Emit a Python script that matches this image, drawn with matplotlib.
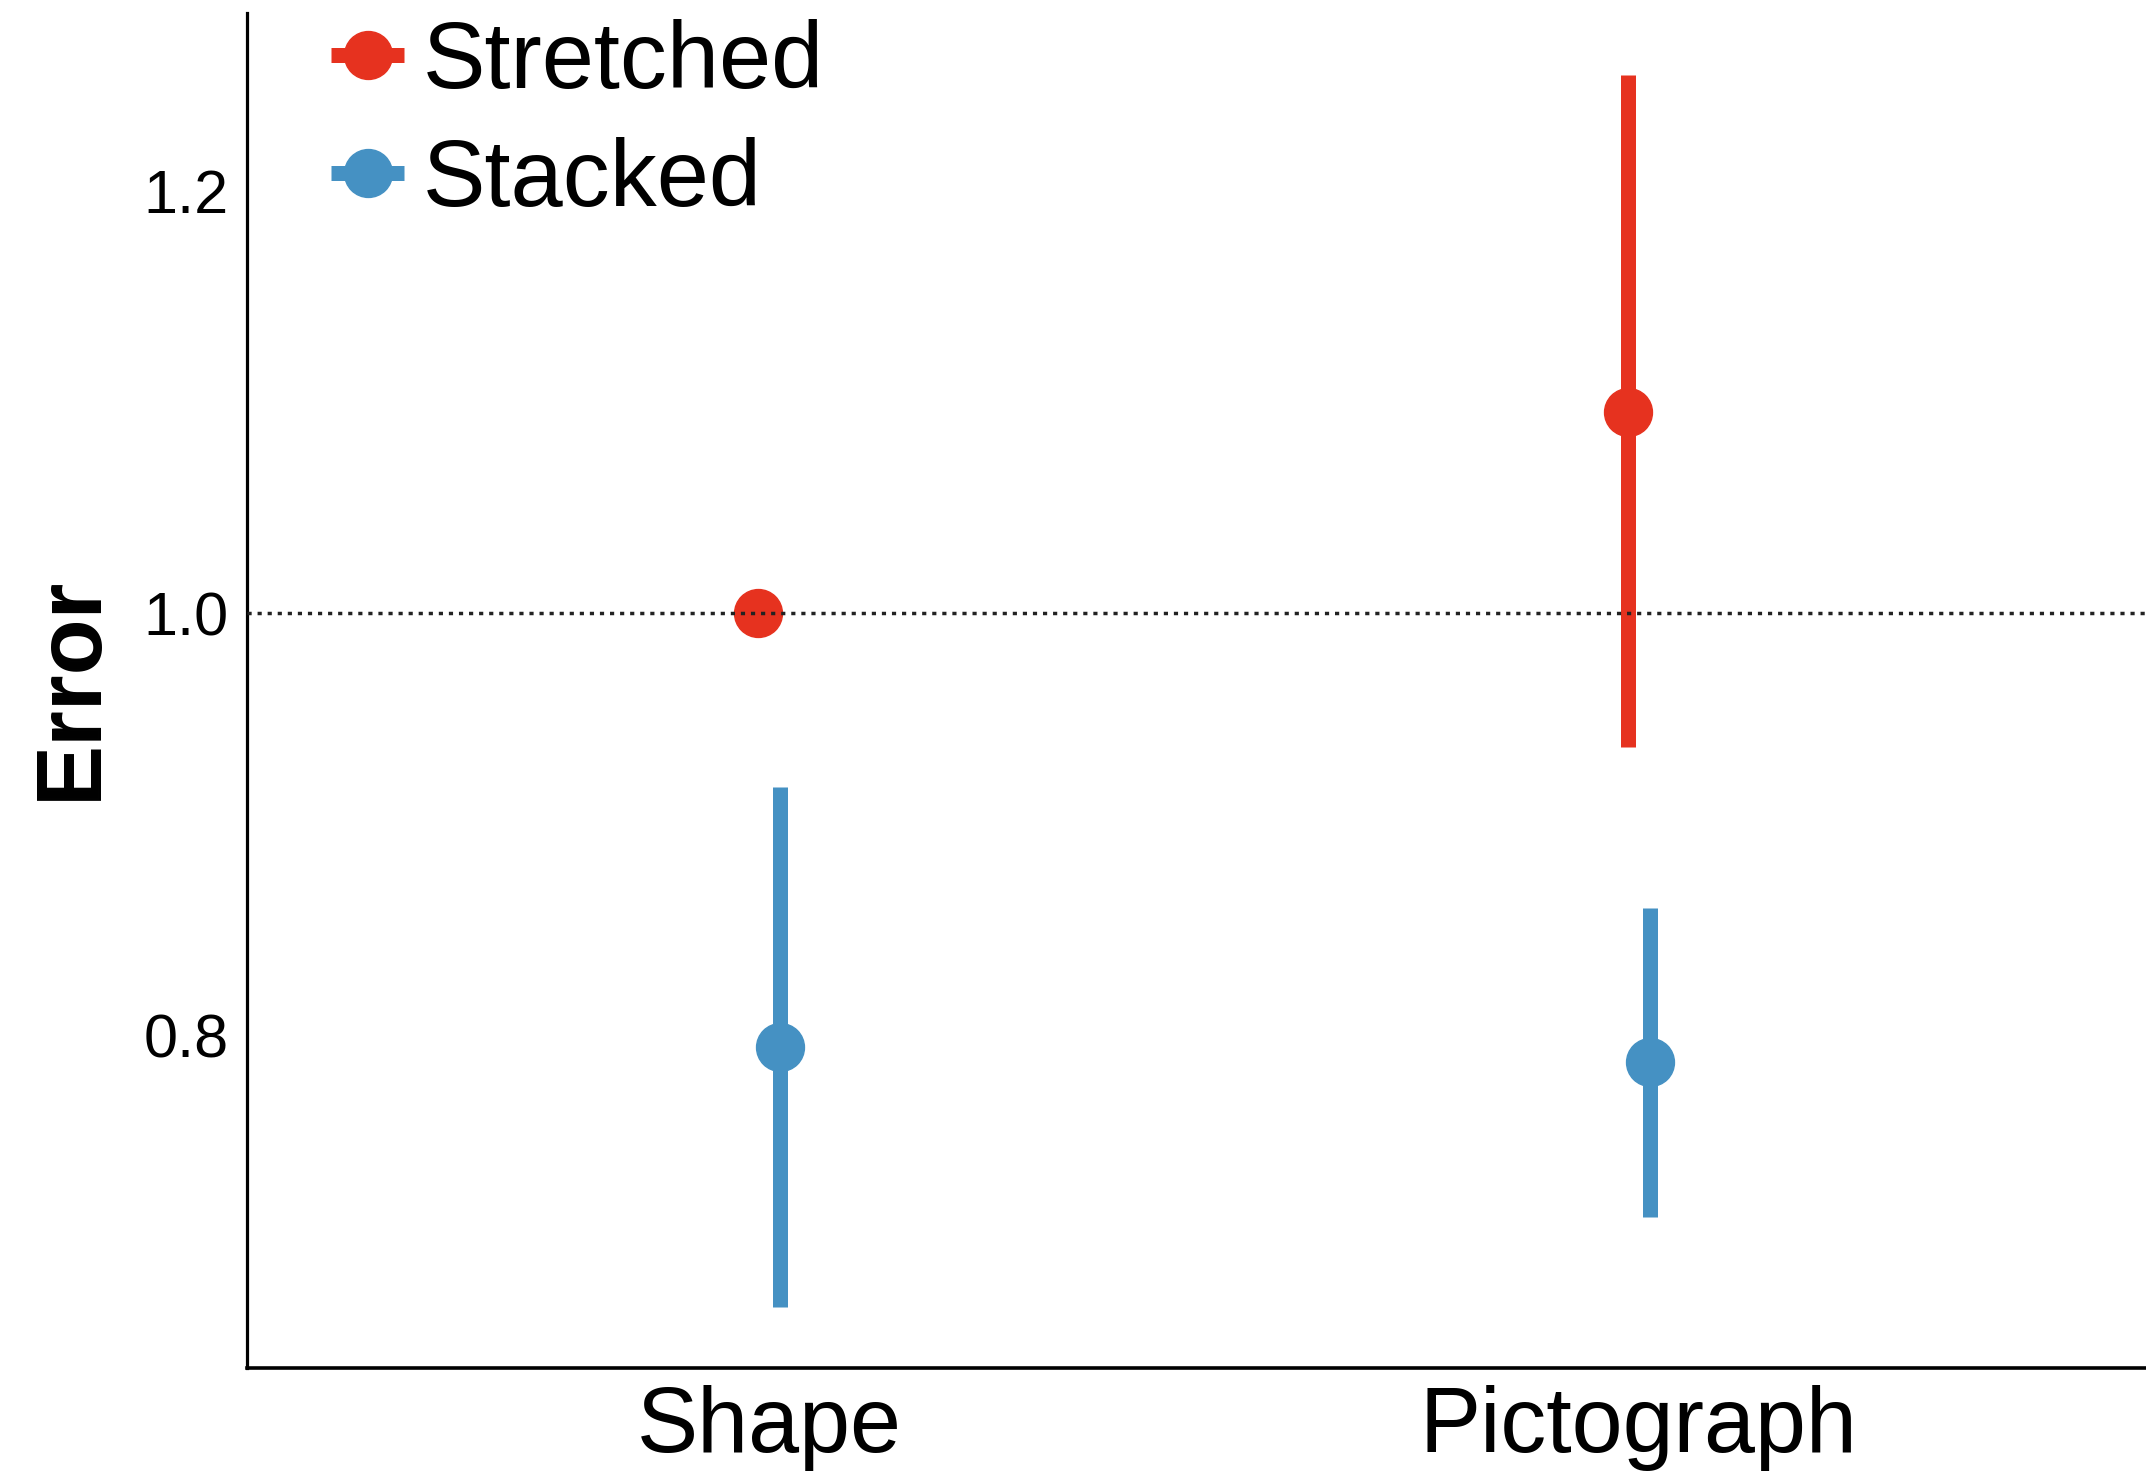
import matplotlib
matplotlib.use('Agg')
import matplotlib.pyplot as plt
from matplotlib.lines import Line2D

# ---- data ----
categories = ['Shape', 'Pictograph']
groups = ['Stretched', 'Stacked']
stretched_mean = [1.000, 1.0955]
stretched_low = [1.000, 0.9368]
stretched_high = [1.000, 1.2549]
stacked_mean = [0.7947, 0.7877]
stacked_low = [0.6715, 0.7143]
stacked_high = [0.9178, 0.8603]
yticks = [0.8, 1.0, 1.2]
ytick_labels = ['0.8', '1.0', '1.2']
reference_line = 1.0
y_label = 'Error'

colors = {'Stretched': '#E6321F', 'Stacked': '#4591C3'}

plt.rcParams['font.family'] = ['Liberation Sans', 'DejaVu Sans']

W, H = 2146, 1473
fig = plt.figure(figsize=(W / 100, H / 100), dpi=100)
ax = fig.add_axes([247 / W, 105 / H, 1 - 247 / W, 1355 / H])

dodge = 0.0126
series = [
    ('Stretched', stretched_mean, stretched_low, stretched_high, -dodge),
    ('Stacked', stacked_mean, stacked_low, stacked_high, +dodge),
]
ms = 34.5
elw = 10.8
for name, mean, lo, hi, off in series:
    xs = [i + off for i in range(len(categories))]
    yerr = [[m - l for m, l in zip(mean, lo)], [h - m for m, h in zip(mean, hi)]]
    eb = ax.errorbar(xs, mean, yerr=yerr, fmt='o', color=colors[name], ms=ms,
                     elinewidth=elw, capsize=0, zorder=3)
    for c in eb[2]:
        c.set_capstyle('butt')

ax.axhline(reference_line, color='#222222', lw=2.5, dashes=(1.2, 1.7), zorder=4)

ax.set_xlim(-0.6, 1.583)
ax.set_ylim(0.6427, 1.2842)
ax.set_xticks(range(len(categories)))
ax.set_xticklabels(categories, fontsize=66)
ax.set_yticks(yticks)
ax.set_yticklabels(ytick_labels, fontsize=44)
ax.tick_params(axis='x', length=0, pad=12)
ax.tick_params(axis='y', length=0, pad=13.5)

for s in ['top', 'right']:
    ax.spines[s].set_visible(False)
ax.spines['left'].set_linewidth(2.3)
ax.spines['bottom'].set_linewidth(2.6)
ax.spines['left'].set_color('black')
ax.spines['bottom'].set_color('black')

fig.text(72 / W, 1 - 688 / H, y_label, rotation=90, ha='center', va='center',
         fontsize=66, fontweight='bold')

handles = [Line2D([], [], color=colors[g], marker='o', ms=ms, lw=elw,
                  solid_capstyle='butt') for g in groups]
fig.legend(handles, groups, loc='upper left', bbox_to_anchor=(331 / W, 1 - 19 / H),
           frameon=False, fontsize=67.5, borderpad=0, handlelength=0.78,
           handletextpad=0.2, labelspacing=0.31, borderaxespad=0)

fig.savefig('out.png', dpi=100)
